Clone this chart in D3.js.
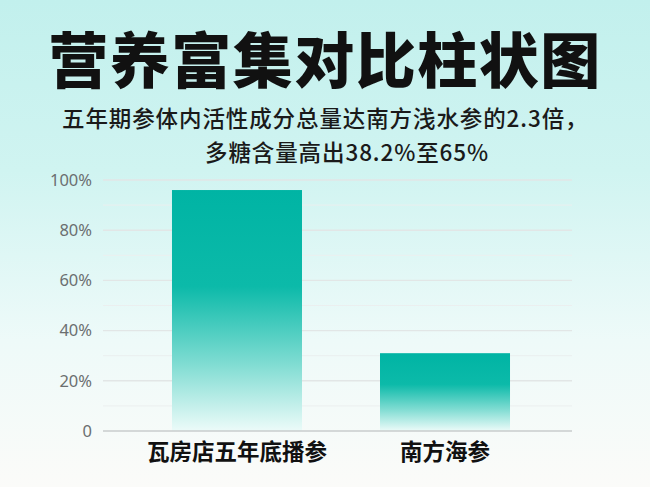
<!DOCTYPE html>
<html>
<head>
<meta charset="utf-8">
<script src="https://cdn.jsdelivr.net/npm/d3@7"></script>
<style>
  body { margin: 0; }
  svg { display: block; font-family: "Noto Sans CJK SC", "Noto Sans", sans-serif; }
</style>
</head>
<body>
<svg id="chart" width="650" height="487"></svg>
<script>
const categories = ["瓦房店五年底播参", "南方海参"];
const values = [96, 31];
const yTicks = [0, 20, 40, 60, 80, 100];
const title = "营养富集对比柱状图";
const subtitleLines = ["五年期参体内活性成分总量达南方浅水参的2.3倍，", "多糖含量高出38.2%至65%"];

const width = 650, height = 487;
const margin = { top: 180, right: 78, bottom: 56, left: 103 };

const svg = d3.select("#chart");
const defs = svg.append("defs");

// background: cyan at top fading to white at the bottom
const bg = defs.append("linearGradient").attr("id", "bg")
  .attr("x1", 0).attr("y1", 0).attr("x2", 0).attr("y2", 1);
bg.append("stop").attr("offset", "0%").attr("stop-color", "#c2f0ed");
bg.append("stop").attr("offset", "35%").attr("stop-color", "#d0f4f1");
bg.append("stop").attr("offset", "70%").attr("stop-color", "#eefaf9");
bg.append("stop").attr("offset", "100%").attr("stop-color", "#fbfbf9");
svg.append("rect").attr("width", width).attr("height", height).attr("fill", "url(#bg)");

const barGrad = defs.append("linearGradient").attr("id", "bar")
  .attr("x1", 0).attr("y1", 0).attr("x2", 0).attr("y2", 1);
barGrad.append("stop").attr("offset", "0%").attr("stop-color", "#00b4a4");
barGrad.append("stop").attr("offset", "40%").attr("stop-color", "#0cbaa9");
barGrad.append("stop").attr("offset", "72%").attr("stop-color", "#7fdcd2");
barGrad.append("stop").attr("offset", "100%").attr("stop-color", "#ecfbf9");

// titles
svg.append("text")
  .attr("x", 325).attr("y", 83)
  .attr("text-anchor", "middle")
  .attr("font-size", 60).attr("font-weight", 900)
  .attr("letter-spacing", 1.5)
  .attr("fill", "#111")
  .text(title);

svg.append("text")
  .attr("x", 62).attr("y", 127)
  .attr("font-size", 22.5).attr("font-weight", 500).attr("fill", "#1a1a1a")
  .attr("letter-spacing", 0.9)
  .text(subtitleLines[0]);
svg.append("text")
  .attr("x", 205).attr("y", 161)
  .attr("font-size", 22.5).attr("font-weight", 500).attr("fill", "#1a1a1a")
  .attr("letter-spacing", 0.9)
  .text(subtitleLines[1]);

const x = d3.scaleBand()
  .domain(categories)
  .range([110, width - margin.right])
  .paddingInner(0.375).paddingOuter(0.298);

const y = d3.scaleLinear()
  .domain([0, 100])
  .range([height - margin.bottom, margin.top]);

// grid: major every 20, minor every 10
const grid = svg.append("g");
grid.selectAll("line").data(d3.range(10, 101, 10)).join("line")
  .attr("x1", margin.left).attr("x2", width - margin.right)
  .attr("y1", d => y(d)).attr("y2", d => y(d))
  .attr("stroke", d => d % 20 === 0 ? "#e2e6e6" : "#ebefef")
  .attr("stroke-width", d => d % 20 === 0 ? 1.4 : 1);

svg.append("g").selectAll("rect").data(values).join("rect")
  .attr("x", (d, i) => x(categories[i]))
  .attr("width", x.bandwidth())
  .attr("y", d => y(d))
  .attr("height", d => y(0) - y(d))
  .attr("fill", "url(#bar)");

// baseline
svg.append("line")
  .attr("x1", margin.left).attr("x2", width - margin.right)
  .attr("y1", y(0)).attr("y2", y(0))
  .attr("stroke", "#c8cccc").attr("stroke-width", 1.5);

const yAxis = svg.append("g")
  .attr("transform", `translate(${margin.left - 8},0)`)
  .call(d3.axisLeft(y).tickValues(yTicks).tickSize(0).tickFormat(d => d === 0 ? "0" : d + "%"));
yAxis.select(".domain").remove();
yAxis.selectAll("text")
  .attr("font-family", "'Noto Sans', sans-serif")
  .attr("font-size", 16.5).attr("fill", "#6b6f70");

const xAxis = svg.append("g")
  .attr("transform", `translate(0,${y(0)})`)
  .call(d3.axisBottom(x).tickSize(0).tickPadding(13));
xAxis.select(".domain").remove();
xAxis.selectAll("text")
  .attr("font-family", "'Noto Sans CJK SC', sans-serif")
  .attr("font-size", 22.5).attr("font-weight", 700).attr("fill", "#111");
</script>
</body>
</html>
